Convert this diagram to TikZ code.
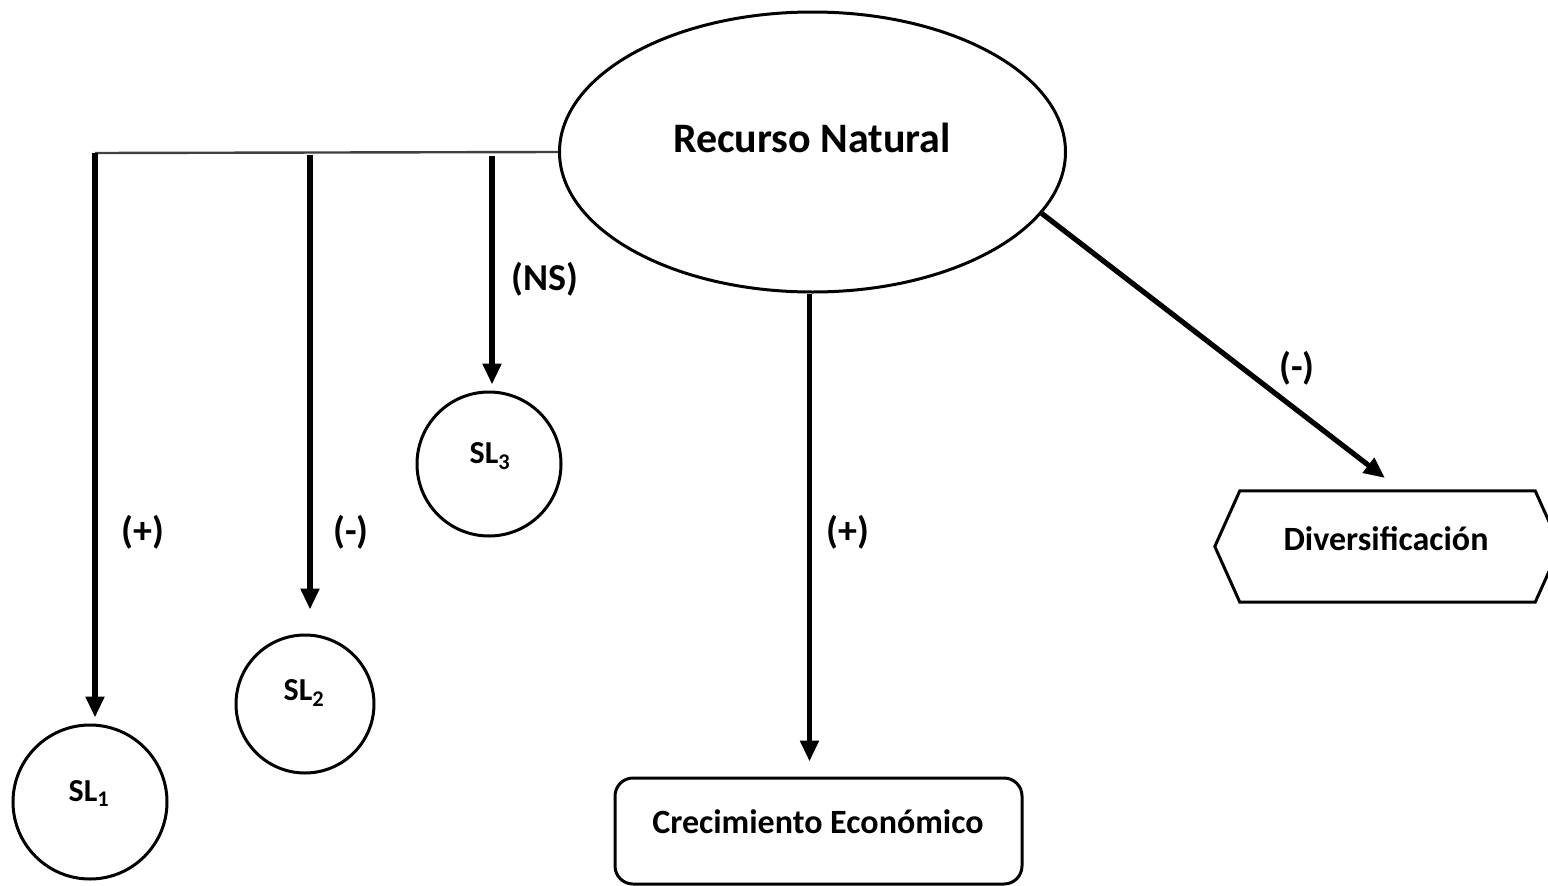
\documentclass[tikz,border=0pt]{standalone}
\usepackage{fontspec}
\setmainfont{Carlito}
\usetikzlibrary{shapes.geometric,arrows.meta,calc}
\begin{document}
\begin{tikzpicture}[x=1pt,y=-1pt,
  arr/.style={line width=5.2pt,-{Triangle[length=21pt,width=18pt]}},
  thinline/.style={line width=2.4pt,draw=black!75},
  circ/.style={circle,draw,line width=3pt,inner sep=0pt},
  shp/.style={draw,line width=3pt,inner sep=0pt},
  lbl/.style={font=\fontsize{38}{44}\selectfont\bfseries,anchor=base,inner sep=0pt},
  txt/.style={font=\fontsize{34}{40}\selectfont\bfseries,anchor=base,inner sep=0pt},
  sltxt/.style={font=\fontsize{32}{38}\selectfont\bfseries,anchor=base,inner sep=0pt}]
\useasboundingbox (0,0) rectangle (1548,886);
% main ellipse
\node[shp,ellipse,minimum width=506pt,minimum height=280pt] (rn) at (812.5,152) {};
\node[font=\fontsize{42}{50}\selectfont\bfseries,anchor=base,inner sep=0pt] (rnt) at (812,152) {Recurso Natural};
% circles
\node[circ,minimum size=154pt] (sl1) at (90,802) {};
\node[sltxt] (sl1t) at (89,801) {SL\textsubscript{1}};
\node[circ,minimum size=138pt] (sl2) at (305,704) {};
\node[sltxt] (sl2t) at (304,700) {SL\textsubscript{2}};
\node[circ,minimum size=144pt] (sl3) at (489,464) {};
\node[sltxt] (sl3t) at (490,463) {SL\textsubscript{3}};
% rounded rectangle
\node[shp,rounded corners=18pt,minimum width=407pt,minimum height=106pt] (cre) at (818.5,831) {};
\node[txt] (cret) at (818,833) {Crecimiento Económico};
% hexagon
\node[inner sep=0pt,minimum width=295pt,minimum height=111pt] (div) at (1387.5,546.5) {};
\draw[line width=3pt,line join=miter] (div.north west) -- (div.north east) -- ($(div.east)+(25,0)$) -- (div.south east) -- (div.south west) -- ($(div.west)+(-25,0)$) -- cycle;
\node[txt] (divt) at (1386,550) {Diversificación};
% connectors
\coordinate (j1) at (95,153);
\coordinate (j2) at (310,155);
\coordinate (j3) at (492,156);
\coordinate (dtip) at (1385,478);
\draw[thinline] (j1) -- (rn.west);
\draw[arr,shorten >=6pt] (j1) -- (j1 |- sl1.north);
\draw[arr,shorten >=24pt] (j2) -- (j2 |- sl2.north);
\draw[arr,shorten >=6pt] (j3) -- (j3 |- sl3.north);
\draw[arr,shorten >=15pt] ($(rn.south)+(-3,0)$) -- ($(rn.south |- cre.north)+(-3,0)$);
\draw[arr] (rn.-15) -- (dtip);
% labels
\node[lbl] (l1) at (143,543) {(+)};
\node[lbl] (l2) at (351,543) {(-)};
\node[lbl] (l3) at (545,290) {(NS)};
\node[lbl] (l4) at (848,543) {(+)};
\node[lbl] (l5) at (1297,379) {(-)};
\end{tikzpicture}
\end{document}
